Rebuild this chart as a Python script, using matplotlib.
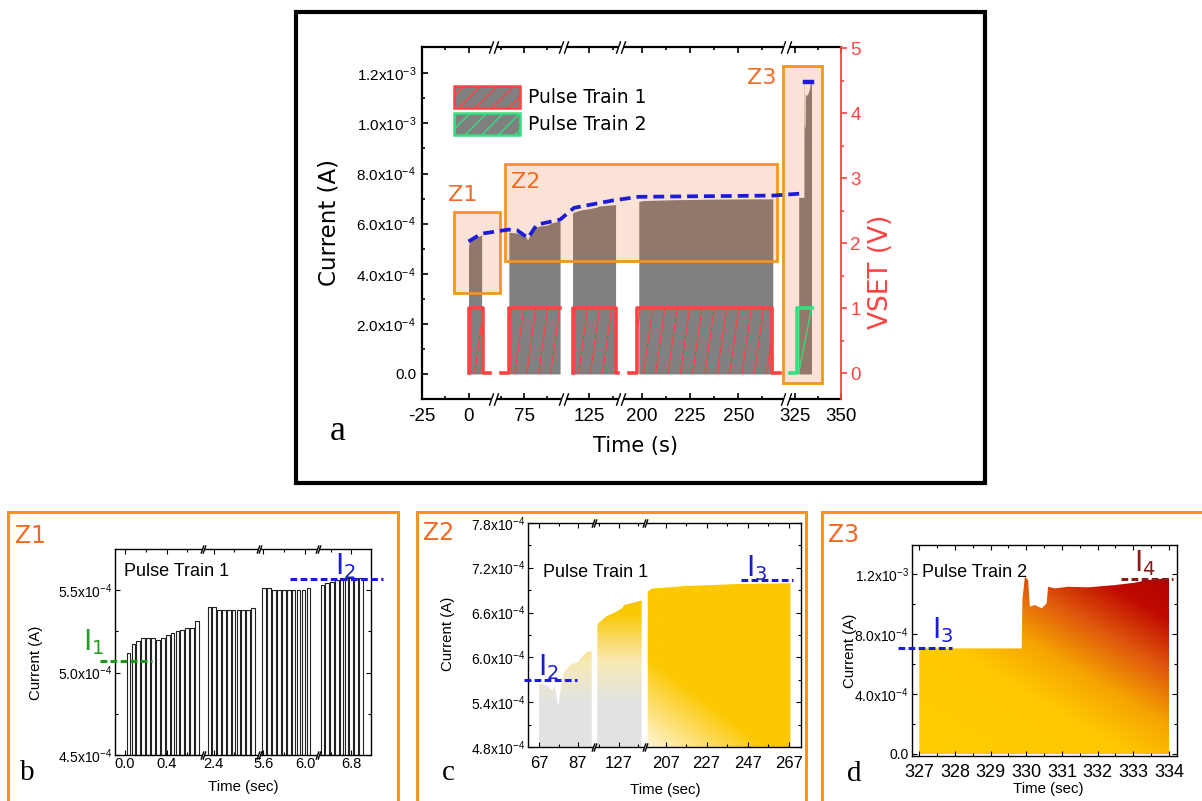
import numpy as np
import matplotlib.pyplot as plt
import matplotlib.colors as mcolors
import matplotlib.transforms as mtransforms
from matplotlib.patches import Patch, Rectangle
from matplotlib.path import Path

plt.rcParams['font.family'] = ['DejaVu Sans']
plt.rcParams['mathtext.fontset'] = 'custom'
plt.rcParams['mathtext.rm'] = 'Liberation Sans'
plt.rcParams['mathtext.it'] = 'Liberation Sans:italic'
plt.rcParams['mathtext.bf'] = 'Liberation Sans:bold'

W, H = 1202, 801
SANS = 'Liberation Sans'
SERIF = 'Liberation Serif'
RED = '#ff4242'
GREEN = '#35e07e'
BLUE = '#1c1cd8'
ORANGE = '#f5961e'
ZTXT = '#f26a22'
GRAY = '#808080'

# ---------------- data ----------------
# current envelope of each recorded block: time (s), current (A)
b1_t = [0.0, 0.7, 2.3, 2.8, 5.6, 6.1, 6.5, 7.0]
b1_i = [5.12e-4, 5.31e-4, 5.40e-4, 5.39e-4, 5.51e-4, 5.51e-4, 5.53e-4, 5.57e-4]
b2_t = [66.9, 70.8, 73.4, 75.2, 76.9, 78.1, 79.5, 83.0, 87.3, 89.9, 92.5, 94.3]
b2_i = [5.655e-4, 5.63e-4, 5.565e-4, 5.61e-4, 5.34e-4, 5.565e-4, 5.79e-4,
        5.90e-4, 5.94e-4, 6.03e-4, 6.08e-4, 6.08e-4]
b3_t = [116.0, 116.6, 120.7, 125.8, 129.0, 129.9, 134.3, 139.0]
b3_i = [6.41e-4, 6.46e-4, 6.55e-4, 6.61e-4, 6.66e-4, 6.70e-4, 6.73e-4, 6.76e-4]
b4_t = [198.3, 200.3, 217.3, 241.7, 267.9]
b4_i = [6.88e-4, 6.92e-4, 6.955e-4, 6.98e-4, 6.99e-4]
b5_t = [327.0, 329.87, 329.89, 329.96, 330.05, 330.10, 330.24, 330.43, 330.57,
        330.61, 330.80, 331.17, 331.73, 332.48, 333.04, 333.41, 334.0]
b5_i = [7.05e-4, 7.05e-4, 1.028e-3, 1.184e-3, 1.162e-3, 9.84e-4, 9.95e-4, 9.73e-4,
        1.006e-3, 1.117e-3, 1.106e-3, 1.117e-3, 1.113e-3, 1.128e-3, 1.144e-3,
        1.162e-3, 1.173e-3]

# envelope (blue dashed) in panel a
env_t = [0.0, 7.0, 66.6, 71.4, 77.1, 81.9, 94.3, 116.8, 137.9, 198.3, 267.9, 328.3]
env_i = [5.29e-4, 5.60e-4, 5.76e-4, 5.73e-4, 5.43e-4, 5.96e-4, 6.16e-4, 6.63e-4,
         6.93e-4, 7.07e-4, 7.12e-4, 7.20e-4]
top_t = [330.3, 334.1]
top_i = [1.167e-3, 1.167e-3]

# VSET pulses (V)
v1_t, v1_v = [0.0, 0.0, 7.5, 7.5, 11.6], [0, 1, 1, 0, 0]
v2_t, v2_v = [62.5, 66.9, 66.9, 94.3], [0, 0, 1, 1]
v3_t, v3_v = [116.0, 116.0, 139.0, 139.0, 140.3], [0, 1, 1, 0, 0]
v4_t, v4_v = [193.4, 197.5, 197.5, 267.4, 267.4, 271.7], [0, 0, 1, 1, 0, 0]
v5_t, v5_v = [322.0, 326.2, 326.2, 334.1], [0, 0, 1, 1]
pt1_spans = [(0.0, 7.5), (66.9, 94.3), (116.0, 139.0), (197.5, 267.4)]
pt2_spans = [(326.2, 334.1)]

# panel b: pulse tops (A) in the four recorded windows
pb_start = [0.016, 2.34, 5.59, 6.50]
pb_period = 0.047
pb_width = 0.036
pb_levels = [
    [5.12, 5.17, 5.19, 5.21, 5.21, 5.21, 5.20, 5.21, 5.23, 5.24, 5.25, 5.26, 5.27, 5.27, 5.31],
    [5.40, 5.40, 5.38, 5.38, 5.38, 5.38, 5.38, 5.38, 5.38, 5.39],
    [5.51, 5.51, 5.50, 5.50, 5.50, 5.50, 5.50, 5.50, 5.50, 5.51],
    [5.53, 5.54, 5.55, 5.56, 5.57, 5.57, 5.57, 5.57, 5.57],
]
i1_b, i2_b = 5.07e-4, 5.565e-4
i2_c, i3_c = 5.70e-4, 7.035e-4
i3_d, i4_d = 7.05e-4, 1.169e-3

# axis ticks
a_xticks = [-25, 0, 75, 125, 200, 225, 250, 325, 350]
a_xminor = [-12.5, 62.5, 87.5, 137.5, 212.5, 237.5, 262.5, 337.5]
a_yticks = [0, 2e-4, 4e-4, 6e-4, 8e-4, 1.0e-3, 1.2e-3]
a_ylabels = ['0.0', r'2.0x10$^{-4}$', r'4.0x10$^{-4}$', r'6.0x10$^{-4}$',
             r'8.0x10$^{-4}$', r'1.0x10$^{-3}$', r'1.2x10$^{-3}$']
b_xticks = [0.0, 0.4, 2.4, 5.6, 6.0, 6.8]
b_xminor = [0.2, 0.6, 2.6, 5.8, 6.6]
b_yticks = [4.5e-4, 5.0e-4, 5.5e-4]
b_ylabels = [r'4.5x10$^{-4}$', r'5.0x10$^{-4}$', r'5.5x10$^{-4}$']
c_xticks = [67, 87, 127, 207, 227, 247, 267]
c_xminor = [77, 117, 137, 217, 237, 257]
c_yticks = [4.8e-4, 5.4e-4, 6.0e-4, 6.6e-4, 7.2e-4, 7.8e-4]
c_ylabels = [r'4.8x10$^{-4}$', r'5.4x10$^{-4}$', r'6.0x10$^{-4}$',
             r'6.6x10$^{-4}$', r'7.2x10$^{-4}$', r'7.8x10$^{-4}$']
d_xticks = [327, 328, 329, 330, 331, 332, 333, 334]
d_yticks = [0, 4e-4, 8e-4, 1.2e-3]
d_ylabels = ['0.0', r'4.0x10$^{-4}$', r'8.0x10$^{-4}$', r'1.2x10$^{-3}$']

# broken-axis knots: data value -> screen position
a_knots = ([-25, 12, 60, 94.8, 112.5, 140.3, 190.1, 273.2, 321.7, 350],
           [421.7, 491, 496, 561, 566, 618, 623, 783, 789, 840.7])
b_knots = ([-0.096, 0.737, 2.30, 2.83, 5.57, 6.11, 6.48, 6.99],
           [115, 201.7, 203.5, 258, 260, 316.7, 318.5, 370.7])
c_knots = ([61.27, 95.0, 115.0, 140.0, 197.2, 272.9],
           [528.3, 593.1, 595.4, 643.6, 645.5, 800.7])


def piecewise(knots):
    kt = np.asarray(knots[0], float)
    kp = np.asarray(knots[1], float)
    return (lambda x: np.interp(x, kt, kp)), (lambda y: np.interp(y, kp, kt))


def gaps_of(knots):
    kt = knots[0]
    return [(kt[k], kt[k + 1]) for k in range(1, len(kt) - 1, 2)]


def break_marks(ax, gaps, size=8, lw_white=3.5):
    tr = mtransforms.blended_transform_factory(ax.transData, ax.transAxes)
    for a, b in gaps:
        for y in (0, 1):
            ax.plot([a, b], [y, y], color='white', lw=lw_white, transform=tr,
                    clip_on=False, zorder=8, solid_capstyle='butt')
            ax.plot([a, b], [y, y], ls='none', marker=[(-0.35, -1), (0.35, 1)],
                    ms=size, mec='k', mfc='none', mew=1.0, transform=tr,
                    clip_on=False, zorder=9)


def ramp(s, stops, cols):
    rgb = np.array([mcolors.to_rgb(c) for c in cols])
    return np.stack([np.interp(s, stops, rgb[:, k]) for k in range(3)], axis=-1)


def block_path(t, i):
    verts = [(t[0], 0)] + list(zip(t, i)) + [(t[-1], 0), (t[0], 0)]
    return Path(verts, closed=True)


def hatch_lines(ax, spans, color, shift, spacing, phase):
    for t0, t1 in spans:
        for s in np.arange(t0 + phase - spacing * np.ceil(shift / spacing), t1, spacing):
            a = max(0.0, (t0 - s) / shift)
            b = min(1.0, (t1 - s) / shift)
            if b > a:
                ax.plot([s + a * shift, s + b * shift], [a, b], color=color, lw=0.9, zorder=2)


def small_axes_style(ax, xpad):
    for sp in ax.spines.values():
        sp.set_linewidth(1.0)
    ax.tick_params(which='both', direction='in', top=True, right=True, width=0.8)
    ax.tick_params(which='major', length=3.5)
    ax.tick_params(which='minor', length=2)
    ax.tick_params(axis='x', pad=xpad)
    ax.tick_params(axis='y', pad=2)


def ilevel(ax, x0, x1, y, color, lw=2.2):
    tr = mtransforms.blended_transform_factory(ax.transAxes, ax.transData)
    ax.plot([x0, x1], [y, y], color=color, lw=lw, ls=(0, (2.2, 1.1)),
            transform=tr, clip_on=False, zorder=10)


def ilabel(ax, x, y, sub, color):
    ax.text(x, y, r'$\mathregular{I_%s}$' % sub, transform=ax.transAxes, color=color,
            fontsize=20, fontfamily='DejaVu Sans', ha='center', va='center')


fig = plt.figure(figsize=(W / 100, H / 100), dpi=100)

# ================= panel a =================
ax = fig.add_axes([421.7 / W, 1 - 399 / H, 419 / W, 352 / H])
fwd, inv = piecewise(a_knots)
ax.set_xscale('function', functions=(fwd, inv))
for t, i in [(b1_t, b1_i), (b2_t, b2_i), (b3_t, b3_i), (b4_t, b4_i), (b5_t, b5_i)]:
    ax.fill_between(t, 0, i, color=GRAY, lw=0, zorder=1)

ax2 = ax.twinx()
for x0, y0, w, h in [(0.0768, 0.302, 0.1101, 0.2301), (0.1979, 0.3929, 0.6511, 0.2747),
                     (0.8616, 0.0463, 0.0931, 0.8997)]:
    ax2.add_patch(Rectangle((x0, y0), w, h, transform=ax2.transAxes,
                            facecolor=(0.925, 0.31, 0.0, 0.16), edgecolor=ORANGE,
                            lw=2, zorder=1))

hatch_lines(ax2, pt1_spans, RED, 4.8, 6.4, 3.2)
hatch_lines(ax2, pt2_spans, GREEN, 7.0, 20.0, 0.8)
for t, v in [(v1_t, v1_v), (v2_t, v2_v), (v3_t, v3_v), (v4_t, v4_v)]:
    ax2.plot(t, v, color=RED, lw=2.6, zorder=3)
ax2.plot(v5_t, v5_v, color=GREEN, lw=2.6, zorder=3)

ax2.plot(env_t, env_i, color=BLUE, lw=2.7, ls=(0, (2.9, 1.6)),
         transform=ax.transData, zorder=5)
ax2.plot(top_t, top_i, color=BLUE, lw=3.2, transform=ax.transData, zorder=5)

ax.set_xlim(-25, 350)
ax.set_ylim(-1.0e-4, 1.305e-3)
ax2.set_ylim(-0.395, 5.02)

ax.set_xticks(a_xticks, labels=[str(v) for v in a_xticks], fontsize=13.5, fontfamily=SANS)
ax.set_xticks(a_xminor, minor=True)
ax.set_yticks(a_yticks, labels=a_ylabels, fontsize=11, fontfamily=SANS)
ax.set_yticks(np.arange(1e-4, 1.25e-3, 2e-4), minor=True)
ax2.set_yticks(range(6), labels=[str(v) for v in range(6)], fontsize=13.5, fontfamily=SANS)
ax2.set_yticks(np.arange(0.5, 5, 1.0), minor=True)

ax.spines['right'].set_visible(False)
for s in ('left', 'bottom', 'top'):
    ax.spines[s].set_linewidth(1.6)
    ax2.spines[s].set_visible(False)
ax2.spines['right'].set_color(RED)
ax2.spines['right'].set_linewidth(1.3)
ax.tick_params(axis='x', which='both', direction='in', top=True, pad=6.5, width=1.2)
ax.tick_params(axis='y', which='both', direction='in', right=False, pad=4, width=1.2)
ax.tick_params(which='major', length=4.5)
ax.tick_params(which='minor', length=2.5)
ax2.tick_params(axis='y', which='both', direction='out', colors=RED, width=1.2, pad=2.5)
ax2.tick_params(axis='y', which='major', length=4.5)
ax2.tick_params(axis='y', which='minor', length=2.5)

ax.set_xlabel('Time (s)', fontsize=15)
ax.xaxis.set_label_coords(0.511, -0.105)
ax.set_ylabel('Current (A)', fontsize=16.5)
ax.yaxis.set_label_coords(-0.1945, 0.5)
ax2.set_ylabel('VSET (V)', fontsize=19, color=RED)
ax2.yaxis.set_label_coords(1.065, 0.36)

ax2.legend(handles=[Patch(facecolor=GRAY, edgecolor=RED, hatch='//', lw=1.8, label='Pulse Train 1'),
                    Patch(facecolor=GRAY, edgecolor=GREEN, hatch='//', lw=1.8, label='Pulse Train 2')],
           loc='upper left', bbox_to_anchor=(0.0768, 0.889), frameon=False, fontsize=13.5,
           handlelength=3.5, handleheight=1.39, handletextpad=0.47, labelspacing=0.29,
           borderpad=0, borderaxespad=0)
break_marks(ax2, gaps_of(a_knots), size=9, lw_white=4)

for txt, x, y in [('Z1', 462.6, 195), ('Z2', 526, 182.5), ('Z3', 761.7, 77.5)]:
    fig.text(x / W, 1 - y / H, txt, color=ZTXT, fontsize=16, ha='center', va='center')
fig.text(337.5 / W, 1 - 440 / H, 'a', fontsize=26, fontfamily=SERIF, ha='center', va='baseline')
fig.add_artist(Rectangle((296 / W, 1 - 483 / H), 689 / W, 471 / H, transform=fig.transFigure,
                         fill=False, ec='black', lw=3))

# ================= panel b =================
axb = fig.add_axes([115 / W, 1 - 755 / H, 255.7 / W, 205.7 / H])
fb, ib = piecewise(b_knots)
axb.set_xscale('function', functions=(fb, ib))
xs, ys = [], []
for t0, lev in zip(pb_start, pb_levels):
    for k, top in enumerate(lev):
        t = t0 + k * pb_period
        xs += [t, t, t + pb_width, t + pb_width]
        ys += [4.0e-4, top * 1e-4, top * 1e-4, 4.0e-4]
    xs.append(np.nan)
    ys.append(np.nan)
axb.plot(xs, ys, color='#222222', lw=0.8)
axb.set_xlim(b_knots[0][0], b_knots[0][-1])
axb.set_ylim(4.5e-4, 5.747e-4)
axb.set_xticks(b_xticks, labels=[f'{v:.1f}' for v in b_xticks], fontsize=10.5, fontfamily=SANS)
axb.set_xticks(b_xminor, minor=True)
axb.set_yticks(b_yticks, labels=b_ylabels, fontsize=10, fontfamily=SANS)
axb.set_yticks([4.75e-4, 5.25e-4], minor=True)
small_axes_style(axb, 1.5)
break_marks(axb, gaps_of(b_knots), size=6, lw_white=2.5)
axb.set_xlabel('Time (sec)', fontsize=10.8, fontfamily=SANS)
axb.xaxis.set_label_coords(0.502, -0.1215)
axb.set_ylabel('Current (A)', fontsize=10.8, fontfamily=SANS)
axb.yaxis.set_label_coords(-0.280, 0.45)
axb.text(0.035, 0.89, 'Pulse Train 1', transform=axb.transAxes, fontsize=13,
         fontfamily=SANS, va='center')
ilevel(axb, -0.059, 0.1435, i1_b, '#1a961a')
ilevel(axb, 0.684, 1.047, i2_b, BLUE)
ilabel(axb, -0.084, 0.549, '1', '#2a9a2a')
ilabel(axb, 0.90, 0.919, '2', BLUE)

# ================= panel c =================
axc = fig.add_axes([528.3 / W, 1 - 747.3 / H, 272.4 / W, 224.6 / H])
fc, ic = piecewise(c_knots)
axc.set_xscale('function', functions=(fc, ic))
uu, vv = np.meshgrid(np.linspace(0, 1, 300), np.linspace(0, 1, 300))
img_lo = ramp(vv, [0, 0.2, 0.38, 0.6, 1], ['#e2e2e2', '#e3e3e3', '#f8eab4', '#fac800', '#fac800'])
img_hi = ramp((uu - 0.43) + 1.1 * vv, [0, 0.45, 3], ['#fff6dc', '#fcc800', '#fcc800'])
im1 = axc.imshow(img_lo, extent=[0, 1, 0, 1], transform=axc.transAxes, origin='lower',
                 aspect='auto', interpolation='bilinear', zorder=1)
im1.set_clip_path(Path.make_compound_path(block_path(b2_t, b2_i), block_path(b3_t, b3_i)),
                  axc.transData)
im2 = axc.imshow(img_hi, extent=[0, 1, 0, 1], transform=axc.transAxes, origin='lower',
                 aspect='auto', interpolation='bilinear', zorder=1)
im2.set_clip_path(block_path(b4_t, b4_i), axc.transData)
axc.set_xlim(c_knots[0][0], c_knots[0][-1])
axc.set_ylim(4.8e-4, 7.8e-4)
axc.set_xticks(c_xticks, labels=[str(v) for v in c_xticks], fontsize=12, fontfamily=SANS)
axc.set_xticks(c_xminor, minor=True)
axc.set_yticks(c_yticks, labels=c_ylabels, fontsize=10, fontfamily=SANS)
axc.set_yticks(np.arange(5.1e-4, 7.6e-4, 0.6e-4), minor=True)
small_axes_style(axc, 6)
break_marks(axc, gaps_of(c_knots), size=6, lw_white=2.5)
axc.set_xlabel('Time (sec)', fontsize=10.8, fontfamily=SANS)
axc.xaxis.set_label_coords(0.502, -0.160)
axc.set_ylabel('Current (A)', fontsize=10.8, fontfamily=SANS)
axc.yaxis.set_label_coords(-0.269, 0.504)
axc.text(0.055, 0.78, 'Pulse Train 1', transform=axc.transAxes, fontsize=13,
         fontfamily=SANS, va='center')
ilevel(axc, -0.016, 0.178, i2_c, BLUE)
ilevel(axc, 0.78, 0.973, i3_c, BLUE)
ilabel(axc, 0.073, 0.359, '2', BLUE)
ilabel(axc, 0.839, 0.797, '3', BLUE)

# ================= panel d =================
axd = fig.add_axes([911.7 / W, 1 - 756 / H, 265 / W, 211 / H])
img_d = ramp(0.6 * uu + 0.8 * vv, [0, 0.5, 0.7, 0.9, 1.1, 1.4],
             ['#ffcc00', '#ffc800', '#f5a400', '#e05a0c', '#c00a00', '#a00000'])
im3 = axd.imshow(img_d, extent=[0, 1, 0, 1], transform=axd.transAxes, origin='lower',
                 aspect='auto', interpolation='bilinear', zorder=1)
im3.set_clip_path(block_path(b5_t, b5_i), axd.transData)
axd.set_xlim(326.787, 334.216)
axd.set_ylim(-1.34e-5, 1.3957e-3)
axd.set_xticks(d_xticks, labels=[str(v) for v in d_xticks], fontsize=13, fontfamily=SANS)
axd.set_xticks(np.arange(327.5, 334, 1.0), minor=True)
axd.set_yticks(d_yticks, labels=d_ylabels, fontsize=10, fontfamily=SANS)
axd.set_yticks([2e-4, 6e-4, 1.0e-3], minor=True)
small_axes_style(axd, 6)
axd.set_xlabel('Time (sec)', fontsize=10.8, fontfamily=SANS)
axd.xaxis.set_label_coords(0.514, -0.122)
axd.set_ylabel('Current (A)', fontsize=10.8, fontfamily=SANS)
axd.yaxis.set_label_coords(-0.2075, 0.499)
axd.text(0.038, 0.869, 'Pulse Train 2', transform=axd.transAxes, fontsize=13,
         fontfamily=SANS, va='center')
ilevel(axd, -0.051, 0.151, i3_d, BLUE)
ilevel(axd, 0.79, 0.987, i4_d, '#8b1a1a')
ilabel(axd, 0.116, 0.597, '3', BLUE)
ilabel(axd, 0.880, 0.913, '4', '#8b1a1a')

# ---- orange frames, zoom labels and panel letters ----
top = 1 - 511.7 / H
for x0, x1 in [(8.3, 398.3), (417.3, 805.7), (822.3, 1240)]:
    fig.add_artist(Rectangle((x0 / W, -0.05), (x1 - x0) / W, top + 0.05,
                             transform=fig.transFigure, fill=False, ec='#f7941d', lw=2.2))
for txt, x, y in [('Z1', 15, 543), ('Z2', 423.3, 540), ('Z3', 828.3, 541.7)]:
    fig.text(x / W, 1 - y / H, txt, color=ZTXT, fontsize=17, va='baseline')
for txt, x, y in [('b', 20, 780), ('c', 441.7, 780), ('d', 846.7, 781)]:
    fig.text(x / W, 1 - y / H, txt, fontsize=21, fontfamily=SERIF, va='baseline')

fig.savefig('out.png', dpi=100)
